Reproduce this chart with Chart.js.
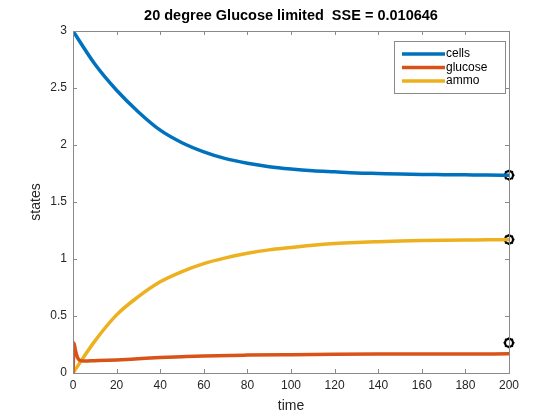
<!DOCTYPE html>
<html>
<head>
<meta charset="utf-8">
<script src="https://cdn.jsdelivr.net/npm/chart.js@4"></script>
<style>
  html, body { margin: 0; padding: 0; background: #fff; }
  #wrap { width: 560px; height: 420px; }
</style>
</head>
<body>
<div id="wrap"><canvas id="chart"></canvas></div>
<script>
// Data
const timeSteps = [0, 10, 20, 30, 40, 50, 60, 70, 80, 90, 100, 110, 120, 130, 140, 150, 160, 170, 180, 190, 200];
const cells = [3.0, 2.71, 2.48, 2.29, 2.13, 2.02, 1.94, 1.88, 1.84, 1.81, 1.79, 1.775, 1.765, 1.755, 1.75, 1.745, 1.742, 1.74, 1.738, 1.736, 1.735];
const ammo = [0, 0.28, 0.51, 0.67, 0.80, 0.89, 0.96, 1.01, 1.05, 1.08, 1.10, 1.12, 1.135, 1.145, 1.152, 1.158, 1.162, 1.165, 1.167, 1.168, 1.17];
const glucoseTime = [0, 0.5, 1, 2, 3, 5, 10, 20, 30, 40, 50, 60, 80, 100, 120, 140, 160, 180, 200];
const glucose = [0, 0.26, 0.21, 0.14, 0.112, 0.105, 0.108, 0.115, 0.125, 0.135, 0.143, 0.15, 0.157, 0.161, 0.164, 0.166, 0.167, 0.167, 0.168];
const markerTime = [200, 200, 200];
const markerValues = [1.735, 1.17, 0.265];
const xTicks = [0, 20, 40, 60, 80, 100, 120, 140, 160, 180, 200];
const yTicks = [0, 0.5, 1, 1.5, 2, 2.5, 3];

const seriesNames = ['cells', 'glucose', 'ammo'];
const seriesColors = ['#0072BD', '#D95319', '#EDB120'];

function toPoints(xs, ys) {
    return xs.map((x, i) => ({ x: x, y: ys[i] }));
}

const FONT = 'Helvetica, Arial, "Liberation Sans", sans-serif';
const frameColor = '#8a8a8a';
const textColor = '#262626';

// box, inward ticks, title and legend like a MATLAB figure
const matlabLook = {
    id: 'matlabLook',
    afterDatasetsDraw(chart) {
        const ctx = chart.ctx;
        const a = chart.chartArea;
        const xs = chart.scales.x;
        const ys = chart.scales.y;
        ctx.save();
        ctx.strokeStyle = frameColor;
        ctx.lineWidth = 1;
        ctx.strokeRect(a.left + 0.5, a.top + 0.5, a.right - a.left, a.bottom - a.top);
        ctx.beginPath();
        xTicks.forEach(v => {
            const px = Math.round(xs.getPixelForValue(v)) + 0.5;
            ctx.moveTo(px, a.bottom); ctx.lineTo(px, a.bottom - 4);
            ctx.moveTo(px, a.top); ctx.lineTo(px, a.top + 4);
        });
        yTicks.forEach(v => {
            const py = Math.round(ys.getPixelForValue(v)) + 0.5;
            ctx.moveTo(a.left, py); ctx.lineTo(a.left + 4, py);
            ctx.moveTo(a.right, py); ctx.lineTo(a.right - 4, py);
        });
        ctx.stroke();

        // title
        ctx.fillStyle = '#000';
        ctx.font = 'bold 14.5px ' + FONT;
        ctx.textAlign = 'center';
        ctx.textBaseline = 'middle';
        ctx.fillText('20 degree Glucose limited  SSE = 0.010646', (a.left + a.right) / 2, 16);

        // legend
        const lx = 394, ly = 41, lw = 111, lh = 52;
        ctx.fillStyle = '#fff';
        ctx.fillRect(lx, ly, lw, lh);
        ctx.strokeStyle = frameColor;
        ctx.strokeRect(lx + 0.5, ly + 0.5, lw, lh);
        ctx.font = '12px ' + FONT;
        ctx.textAlign = 'left';
        seriesNames.forEach((name, i) => {
            const y = 54 + i * 13.5;
            ctx.strokeStyle = seriesColors[i];
            ctx.lineWidth = 3.5;
            ctx.beginPath();
            ctx.moveTo(402, y); ctx.lineTo(445, y);
            ctx.stroke();
            ctx.fillStyle = '#000';
            ctx.fillText(name, 446, y);
        });
        ctx.restore();
    }
};

const ctx = document.getElementById('chart').getContext('2d');
new Chart(ctx, {
    type: 'line',
    data: {
        datasets: [{
            label: 'cells',
            data: toPoints(timeSteps, cells),
            borderColor: seriesColors[0],
            borderWidth: 3.5,
            pointRadius: 0,
            cubicInterpolationMode: 'monotone'
        },
        {
            label: 'glucose',
            data: toPoints(glucoseTime, glucose),
            borderColor: seriesColors[1],
            borderWidth: 3.5,
            pointRadius: 0,
            cubicInterpolationMode: 'monotone'
        },
        {
            label: 'ammo',
            data: toPoints(timeSteps, ammo),
            borderColor: seriesColors[2],
            borderWidth: 3.5,
            pointRadius: 0,
            cubicInterpolationMode: 'monotone'
        },
        {
            label: 'data o',
            data: toPoints(markerTime, markerValues),
            showLine: false,
            pointStyle: 'circle',
            pointRadius: 4,
            pointBorderWidth: 2.2,
            pointBorderColor: '#000',
            pointBackgroundColor: '#fff',
            clip: false
        },
        {
            label: 'data *',
            data: toPoints(markerTime, markerValues),
            showLine: false,
            pointStyle: 'star',
            pointRadius: 5.5,
            pointBorderWidth: 1.5,
            pointBorderColor: '#000',
            clip: false
        }]
    },
    options: {
        responsive: true,
        maintainAspectRatio: false,
        animation: false,
        layout: { padding: { top: 31, right: 51, left: 0, bottom: 0 } },
        plugins: {
            legend: { display: false },
            title: { display: false },
            tooltip: { enabled: false }
        },
        scales: {
            x: {
                type: 'linear',
                min: 0,
                max: 200,
                afterBuildTicks: (scale) => { scale.ticks = xTicks.map(v => ({ value: v })); },
                afterFit: (scale) => { scale.height = 47; },
                grid: { display: false, drawTicks: false },
                border: { display: false },
                ticks: { color: textColor, font: { family: FONT, size: 12 }, padding: 5, maxRotation: 0,
                         callback: (v) => String(v) },
                title: { display: true, text: 'time', color: textColor, font: { family: FONT, size: 14 }, padding: { top: 0, bottom: 5 } }
            },
            y: {
                type: 'linear',
                min: 0,
                max: 3,
                afterBuildTicks: (scale) => { scale.ticks = yTicks.map(v => ({ value: v })); },
                afterFit: (scale) => { scale.width = 73; },
                grid: { display: false, drawTicks: false },
                border: { display: false },
                ticks: { color: textColor, font: { family: FONT, size: 12 }, padding: 6,
                         callback: (v) => String(v) },
                title: { display: true, text: 'states', color: textColor, font: { family: FONT, size: 14 }, padding: { top: 28, bottom: 0 } }
            }
        }
    },
    plugins: [matlabLook]
});
</script>
</body>
</html>
